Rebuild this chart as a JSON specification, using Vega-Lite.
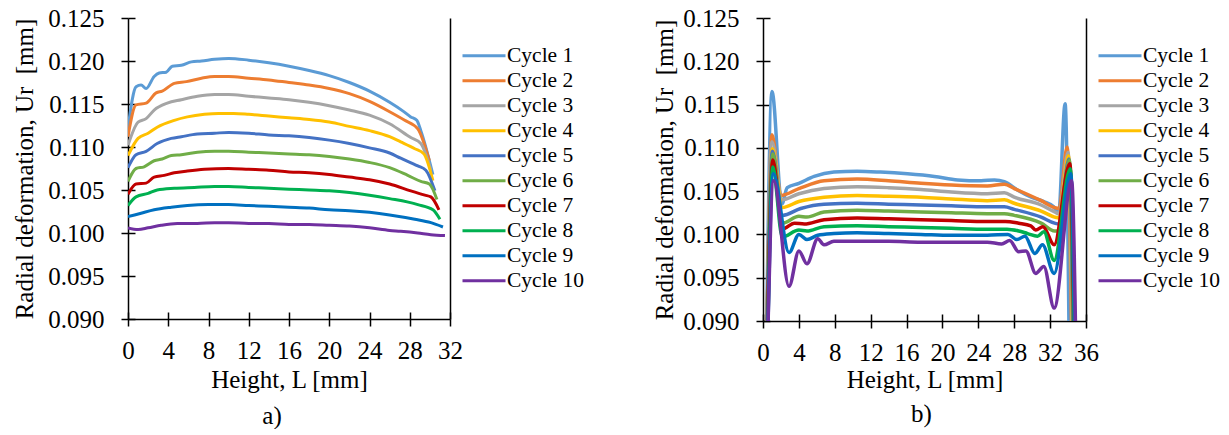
{
  "$schema": "https://vega.github.io/schema/vega-lite/v6.json",
  "padding": {"left": 12, "top": 6, "right": 0, "bottom": 0},
  "config": {
    "font": "Liberation Serif",
    "view": {"stroke": null},
    "axis": {
      "grid": false,
      "labelFont": "Liberation Serif", "labelFontSize": 25, "labelColor": "black",
      "labelFlush": false, "labelOverlap": false,
      "titleFont": "Liberation Serif", "titleFontSize": 25, "titleFontWeight": "normal", "titleColor": "black",
      "domainColor": "black", "domainWidth": 1.5,
      "tickColor": "black", "tickWidth": 1.5, "tickSize": 7
    },
    "legend": {
      "labelFont": "Liberation Serif", "labelFontSize": 21.5, "labelColor": "black",
      "symbolType": "stroke", "symbolSize": 1849, "symbolStrokeWidth": 3,
      "labelOffset": 0, "rowPadding": 2, "clipHeight": 21.5, "padding": 0
    },
    "title": {"font": "Liberation Serif", "fontSize": 25, "fontWeight": "normal", "color": "black"}
  },
  "datasets": {
    "panelA": [
      {"cycle":1,"L":0,"Ur":0.1122},{"cycle":1,"L":0.8,"Ur":0.1170},{"cycle":1,"L":1.3,"Ur":0.1172},{"cycle":1,"L":1.8,"Ur":0.1168},{"cycle":1,"L":2.6,"Ur":0.1182},{"cycle":1,"L":3.1,"Ur":0.1186},{"cycle":1,"L":3.8,"Ur":0.1187},{"cycle":1,"L":4.4,"Ur":0.1194},{"cycle":1,"L":5.3,"Ur":0.1195},{"cycle":1,"L":6.3,"Ur":0.1199},{"cycle":1,"L":7.3,"Ur":0.1200},{"cycle":1,"L":8.6,"Ur":0.1202},{"cycle":1,"L":10,"Ur":0.1203},{"cycle":1,"L":12,"Ur":0.1201},{"cycle":1,"L":14,"Ur":0.1198},{"cycle":1,"L":16,"Ur":0.1194},{"cycle":1,"L":18,"Ur":0.1189},{"cycle":1,"L":20,"Ur":0.1183},{"cycle":1,"L":22,"Ur":0.1175},{"cycle":1,"L":24,"Ur":0.1165},{"cycle":1,"L":26,"Ur":0.1152},{"cycle":1,"L":27.3,"Ur":0.1142},{"cycle":1,"L":28.1,"Ur":0.1135},{"cycle":1,"L":28.7,"Ur":0.1131},{"cycle":1,"L":29.1,"Ur":0.1119},{"cycle":1,"L":30.3,"Ur":0.1068},
      {"cycle":2,"L":0,"Ur":0.1112},{"cycle":2,"L":0.8,"Ur":0.1149},{"cycle":2,"L":1.8,"Ur":0.1151},{"cycle":2,"L":2.8,"Ur":0.1163},{"cycle":2,"L":3.4,"Ur":0.1165},{"cycle":2,"L":4.6,"Ur":0.1174},{"cycle":2,"L":5.8,"Ur":0.1176},{"cycle":2,"L":7.3,"Ur":0.1180},{"cycle":2,"L":8.6,"Ur":0.1182},{"cycle":2,"L":10,"Ur":0.1182},{"cycle":2,"L":12,"Ur":0.1180},{"cycle":2,"L":14,"Ur":0.1178},{"cycle":2,"L":16,"Ur":0.1175},{"cycle":2,"L":18,"Ur":0.1172},{"cycle":2,"L":20,"Ur":0.1168},{"cycle":2,"L":22,"Ur":0.1162},{"cycle":2,"L":24,"Ur":0.1153},{"cycle":2,"L":26,"Ur":0.1141},{"cycle":2,"L":27.5,"Ur":0.1131},{"cycle":2,"L":28.8,"Ur":0.1121},{"cycle":2,"L":29.95,"Ur":0.1084},
      {"cycle":3,"L":0,"Ur":0.1102},{"cycle":3,"L":1.0,"Ur":0.1129},{"cycle":3,"L":1.8,"Ur":0.1133},{"cycle":3,"L":2.6,"Ur":0.1143},{"cycle":3,"L":3.9,"Ur":0.1151},{"cycle":3,"L":5.3,"Ur":0.1155},{"cycle":3,"L":6.9,"Ur":0.1159},{"cycle":3,"L":8.6,"Ur":0.1161},{"cycle":3,"L":10,"Ur":0.1161},{"cycle":3,"L":12,"Ur":0.1159},{"cycle":3,"L":14,"Ur":0.1157},{"cycle":3,"L":16,"Ur":0.1155},{"cycle":3,"L":18,"Ur":0.1152},{"cycle":3,"L":20,"Ur":0.1148},{"cycle":3,"L":22,"Ur":0.1143},{"cycle":3,"L":24,"Ur":0.1137},{"cycle":3,"L":26,"Ur":0.1127},{"cycle":3,"L":28.1,"Ur":0.1111},{"cycle":3,"L":29.1,"Ur":0.1104},{"cycle":3,"L":30.1,"Ur":0.1073},
      {"cycle":4,"L":0,"Ur":0.1090},{"cycle":4,"L":1.0,"Ur":0.1110},{"cycle":4,"L":2.0,"Ur":0.1116},{"cycle":4,"L":2.9,"Ur":0.1123},{"cycle":4,"L":4.6,"Ur":0.1131},{"cycle":4,"L":5.9,"Ur":0.1135},{"cycle":4,"L":7.6,"Ur":0.1138},{"cycle":4,"L":9,"Ur":0.1139},{"cycle":4,"L":10.5,"Ur":0.1139},{"cycle":4,"L":12,"Ur":0.1138},{"cycle":4,"L":14,"Ur":0.1136},{"cycle":4,"L":16,"Ur":0.1134},{"cycle":4,"L":18,"Ur":0.1132},{"cycle":4,"L":20,"Ur":0.1129},{"cycle":4,"L":22,"Ur":0.1124},{"cycle":4,"L":24,"Ur":0.1119},{"cycle":4,"L":26,"Ur":0.1112},{"cycle":4,"L":27.1,"Ur":0.1106},{"cycle":4,"L":28.5,"Ur":0.1098},{"cycle":4,"L":29.4,"Ur":0.1092},{"cycle":4,"L":30.3,"Ur":0.1061},
      {"cycle":5,"L":0,"Ur":0.1076},{"cycle":5,"L":0.8,"Ur":0.1091},{"cycle":5,"L":1.8,"Ur":0.1095},{"cycle":5,"L":2.9,"Ur":0.1104},{"cycle":5,"L":4.3,"Ur":0.1110},{"cycle":5,"L":5.3,"Ur":0.1112},{"cycle":5,"L":6.9,"Ur":0.1115},{"cycle":5,"L":8.6,"Ur":0.1116},{"cycle":5,"L":10,"Ur":0.1117},{"cycle":5,"L":12,"Ur":0.1116},{"cycle":5,"L":14,"Ur":0.1114},{"cycle":5,"L":16,"Ur":0.1113},{"cycle":5,"L":18,"Ur":0.1111},{"cycle":5,"L":20,"Ur":0.1108},{"cycle":5,"L":22,"Ur":0.1104},{"cycle":5,"L":24,"Ur":0.1099},{"cycle":5,"L":26,"Ur":0.1093},{"cycle":5,"L":27.1,"Ur":0.1087},{"cycle":5,"L":28.8,"Ur":0.1078},{"cycle":5,"L":29.6,"Ur":0.1073},{"cycle":5,"L":30.5,"Ur":0.1049},
      {"cycle":6,"L":0,"Ur":0.1060},{"cycle":6,"L":0.8,"Ur":0.1075},{"cycle":6,"L":1.6,"Ur":0.1077},{"cycle":6,"L":2.6,"Ur":0.1084},{"cycle":6,"L":3.4,"Ur":0.1086},{"cycle":6,"L":4.3,"Ur":0.1090},{"cycle":6,"L":5.3,"Ur":0.1091},{"cycle":6,"L":6.9,"Ur":0.1094},{"cycle":6,"L":8.6,"Ur":0.1095},{"cycle":6,"L":10,"Ur":0.1095},{"cycle":6,"L":12,"Ur":0.1094},{"cycle":6,"L":14,"Ur":0.1093},{"cycle":6,"L":16,"Ur":0.1092},{"cycle":6,"L":18,"Ur":0.1091},{"cycle":6,"L":20,"Ur":0.1089},{"cycle":6,"L":22,"Ur":0.1086},{"cycle":6,"L":24,"Ur":0.1082},{"cycle":6,"L":26,"Ur":0.1076},{"cycle":6,"L":27.8,"Ur":0.1067},{"cycle":6,"L":29.1,"Ur":0.1060},{"cycle":6,"L":29.95,"Ur":0.1057},{"cycle":6,"L":30.7,"Ur":0.1039},
      {"cycle":7,"L":0,"Ur":0.1045},{"cycle":7,"L":0.8,"Ur":0.1057},{"cycle":7,"L":1.8,"Ur":0.1058},{"cycle":7,"L":2.6,"Ur":0.1065},{"cycle":7,"L":3.6,"Ur":0.1067},{"cycle":7,"L":4.6,"Ur":0.1070},{"cycle":7,"L":5.9,"Ur":0.1072},{"cycle":7,"L":7.6,"Ur":0.1074},{"cycle":7,"L":10,"Ur":0.1075},{"cycle":7,"L":12,"Ur":0.1074},{"cycle":7,"L":14,"Ur":0.1073},{"cycle":7,"L":16,"Ur":0.1071},{"cycle":7,"L":18,"Ur":0.1070},{"cycle":7,"L":20,"Ur":0.1068},{"cycle":7,"L":22,"Ur":0.1065},{"cycle":7,"L":24,"Ur":0.1062},{"cycle":7,"L":26,"Ur":0.1057},{"cycle":7,"L":28.1,"Ur":0.1049},{"cycle":7,"L":29.5,"Ur":0.1044},{"cycle":7,"L":30.1,"Ur":0.1042},{"cycle":7,"L":30.9,"Ur":0.1027},
      {"cycle":8,"L":0,"Ur":0.1032},{"cycle":8,"L":0.8,"Ur":0.1042},{"cycle":8,"L":2.0,"Ur":0.1046},{"cycle":8,"L":2.9,"Ur":0.1050},{"cycle":8,"L":4.6,"Ur":0.1052},{"cycle":8,"L":6.6,"Ur":0.1053},{"cycle":8,"L":8.6,"Ur":0.1054},{"cycle":8,"L":10,"Ur":0.1054},{"cycle":8,"L":12,"Ur":0.1053},{"cycle":8,"L":14,"Ur":0.1052},{"cycle":8,"L":16,"Ur":0.1051},{"cycle":8,"L":18,"Ur":0.1050},{"cycle":8,"L":20,"Ur":0.1049},{"cycle":8,"L":22,"Ur":0.1047},{"cycle":8,"L":24,"Ur":0.1044},{"cycle":8,"L":26,"Ur":0.1040},{"cycle":8,"L":28.8,"Ur":0.1033},{"cycle":8,"L":30.3,"Ur":0.1027},{"cycle":8,"L":31.0,"Ur":0.1016},
      {"cycle":9,"L":0,"Ur":0.1019},{"cycle":9,"L":1.3,"Ur":0.1023},{"cycle":9,"L":2.6,"Ur":0.1027},{"cycle":9,"L":4.3,"Ur":0.1030},{"cycle":9,"L":5.9,"Ur":0.1032},{"cycle":9,"L":8,"Ur":0.1033},{"cycle":9,"L":10,"Ur":0.1033},{"cycle":9,"L":12,"Ur":0.1032},{"cycle":9,"L":14,"Ur":0.1031},{"cycle":9,"L":16,"Ur":0.1030},{"cycle":9,"L":18,"Ur":0.1029},{"cycle":9,"L":20,"Ur":0.1027},{"cycle":9,"L":22,"Ur":0.1026},{"cycle":9,"L":24,"Ur":0.1024},{"cycle":9,"L":26,"Ur":0.1021},{"cycle":9,"L":28.5,"Ur":0.1016},{"cycle":9,"L":30.1,"Ur":0.1012},{"cycle":9,"L":31.3,"Ur":0.1007},
      {"cycle":10,"L":0,"Ur":0.1006},{"cycle":10,"L":1.0,"Ur":0.1004},{"cycle":10,"L":2.0,"Ur":0.1006},{"cycle":10,"L":3.3,"Ur":0.1009},{"cycle":10,"L":4.9,"Ur":0.1011},{"cycle":10,"L":6.9,"Ur":0.1011},{"cycle":10,"L":8.6,"Ur":0.1012},{"cycle":10,"L":10,"Ur":0.1012},{"cycle":10,"L":12,"Ur":0.1011},{"cycle":10,"L":14,"Ur":0.1011},{"cycle":10,"L":16,"Ur":0.1010},{"cycle":10,"L":18,"Ur":0.1010},{"cycle":10,"L":20,"Ur":0.1009},{"cycle":10,"L":22,"Ur":0.1008},{"cycle":10,"L":24,"Ur":0.1006},{"cycle":10,"L":26,"Ur":0.1003},{"cycle":10,"L":27.1,"Ur":0.1002},{"cycle":10,"L":28.8,"Ur":0.1000},{"cycle":10,"L":30.1,"Ur":0.0998},{"cycle":10,"L":31.5,"Ur":0.0997}
    ],
    "panelB": [
      {"cycle":1,"L":0.35,"Ur":0.085},{"cycle":1,"L":1.0,"Ur":0.1165},{"cycle":1,"L":2.1,"Ur":0.1035},{"cycle":1,"L":2.7,"Ur":0.1054},{"cycle":1,"L":4.0,"Ur":0.1059},{"cycle":1,"L":5.7,"Ur":0.1067},{"cycle":1,"L":7.9,"Ur":0.1072},{"cycle":1,"L":10.5,"Ur":0.1073},{"cycle":1,"L":13.1,"Ur":0.1072},{"cycle":1,"L":16.1,"Ur":0.1070},{"cycle":1,"L":19.1,"Ur":0.1067},{"cycle":1,"L":21.7,"Ur":0.1063},{"cycle":1,"L":24.3,"Ur":0.1062},{"cycle":1,"L":25.8,"Ur":0.1063},{"cycle":1,"L":26.9,"Ur":0.1061},{"cycle":1,"L":28.4,"Ur":0.1051},{"cycle":1,"L":29.9,"Ur":0.1043},{"cycle":1,"L":31.3,"Ur":0.1038},{"cycle":1,"L":32.4,"Ur":0.1032},{"cycle":1,"L":32.95,"Ur":0.1024},{"cycle":1,"L":33.67,"Ur":0.1151},{"cycle":1,"L":34.15,"Ur":0.085},
      {"cycle":2,"L":0.4,"Ur":0.086},{"cycle":2,"L":1.0,"Ur":0.1115},{"cycle":2,"L":2.0,"Ur":0.1045},{"cycle":2,"L":4.0,"Ur":0.1053},{"cycle":2,"L":6.8,"Ur":0.1062},{"cycle":2,"L":10.5,"Ur":0.1064},{"cycle":2,"L":14,"Ur":0.1062},{"cycle":2,"L":17.6,"Ur":0.1059},{"cycle":2,"L":21,"Ur":0.1057},{"cycle":2,"L":25,"Ur":0.1056},{"cycle":2,"L":26.9,"Ur":0.1058},{"cycle":2,"L":28,"Ur":0.1053},{"cycle":2,"L":31,"Ur":0.1039},{"cycle":2,"L":32.5,"Ur":0.1031},{"cycle":2,"L":33.0,"Ur":0.1030},{"cycle":2,"L":33.9,"Ur":0.1101},{"cycle":2,"L":34.45,"Ur":0.085},
      {"cycle":3,"L":0.4,"Ur":0.086},{"cycle":3,"L":1.0,"Ur":0.1107},{"cycle":3,"L":2.1,"Ur":0.1040},{"cycle":3,"L":4.0,"Ur":0.1047},{"cycle":3,"L":6.8,"Ur":0.1053},{"cycle":3,"L":10.5,"Ur":0.1055},{"cycle":3,"L":14,"Ur":0.1054},{"cycle":3,"L":17.6,"Ur":0.1052},{"cycle":3,"L":21,"Ur":0.1049},{"cycle":3,"L":25,"Ur":0.1047},{"cycle":3,"L":26.9,"Ur":0.1048},{"cycle":3,"L":28,"Ur":0.1043},{"cycle":3,"L":31,"Ur":0.1034},{"cycle":3,"L":32.5,"Ur":0.1026},{"cycle":3,"L":33.0,"Ur":0.1024},{"cycle":3,"L":34.0,"Ur":0.1095},{"cycle":3,"L":34.5,"Ur":0.085},
      {"cycle":4,"L":0.4,"Ur":0.087},{"cycle":4,"L":1.05,"Ur":0.1099},{"cycle":4,"L":2.15,"Ur":0.1031},{"cycle":4,"L":4.0,"Ur":0.1038},{"cycle":4,"L":6.8,"Ur":0.1043},{"cycle":4,"L":10.5,"Ur":0.1045},{"cycle":4,"L":14,"Ur":0.1044},{"cycle":4,"L":17.6,"Ur":0.1043},{"cycle":4,"L":21,"Ur":0.1041},{"cycle":4,"L":25,"Ur":0.1039},{"cycle":4,"L":26.9,"Ur":0.1040},{"cycle":4,"L":28,"Ur":0.1036},{"cycle":4,"L":31,"Ur":0.1027},{"cycle":4,"L":32.5,"Ur":0.1020},{"cycle":4,"L":33.0,"Ur":0.1019},{"cycle":4,"L":34.05,"Ur":0.1091},{"cycle":4,"L":34.55,"Ur":0.085},
      {"cycle":5,"L":0.4,"Ur":0.087},{"cycle":5,"L":1.05,"Ur":0.1096},{"cycle":5,"L":2.15,"Ur":0.1022},{"cycle":5,"L":4.2,"Ur":0.1030},{"cycle":5,"L":6.8,"Ur":0.1035},{"cycle":5,"L":10.5,"Ur":0.1036},{"cycle":5,"L":14,"Ur":0.1035},{"cycle":5,"L":17.6,"Ur":0.1034},{"cycle":5,"L":21,"Ur":0.1033},{"cycle":5,"L":25,"Ur":0.1032},{"cycle":5,"L":26.9,"Ur":0.1032},{"cycle":5,"L":28,"Ur":0.1029},{"cycle":5,"L":31,"Ur":0.1020},{"cycle":5,"L":32.5,"Ur":0.1013},{"cycle":5,"L":33.0,"Ur":0.1012},{"cycle":5,"L":34.1,"Ur":0.1087},{"cycle":5,"L":34.6,"Ur":0.085},
      {"cycle":6,"L":0.45,"Ur":0.087},{"cycle":6,"L":1.1,"Ur":0.1093},{"cycle":6,"L":2.15,"Ur":0.1013},{"cycle":6,"L":4.0,"Ur":0.1021},{"cycle":6,"L":4.9,"Ur":0.1020},{"cycle":6,"L":6.8,"Ur":0.1026},{"cycle":6,"L":10.5,"Ur":0.1028},{"cycle":6,"L":14,"Ur":0.1027},{"cycle":6,"L":17.6,"Ur":0.1026},{"cycle":6,"L":21,"Ur":0.1025},{"cycle":6,"L":25,"Ur":0.1024},{"cycle":6,"L":26.9,"Ur":0.1024},{"cycle":6,"L":28,"Ur":0.1022},{"cycle":6,"L":31,"Ur":0.1013},{"cycle":6,"L":32.5,"Ur":0.1004},{"cycle":6,"L":33.0,"Ur":0.1004},{"cycle":6,"L":34.15,"Ur":0.1086},{"cycle":6,"L":34.65,"Ur":0.085},
      {"cycle":7,"L":0.45,"Ur":0.087},{"cycle":7,"L":1.1,"Ur":0.1086},{"cycle":7,"L":2.15,"Ur":0.1006},{"cycle":7,"L":3.5,"Ur":0.1013},{"cycle":7,"L":4.6,"Ur":0.1012},{"cycle":7,"L":6.8,"Ur":0.1017},{"cycle":7,"L":10.5,"Ur":0.1019},{"cycle":7,"L":14,"Ur":0.1018},{"cycle":7,"L":17.6,"Ur":0.1017},{"cycle":7,"L":21,"Ur":0.1016},{"cycle":7,"L":25,"Ur":0.1015},{"cycle":7,"L":27,"Ur":0.1015},{"cycle":7,"L":28.5,"Ur":0.1013},{"cycle":7,"L":29.85,"Ur":0.1010},{"cycle":7,"L":30.4,"Ur":0.1005},{"cycle":7,"L":31.2,"Ur":0.1009},{"cycle":7,"L":32.45,"Ur":0.0988},{"cycle":7,"L":34.2,"Ur":0.1082},{"cycle":7,"L":34.7,"Ur":0.085},
      {"cycle":8,"L":0.5,"Ur":0.087},{"cycle":8,"L":1.1,"Ur":0.1078},{"cycle":8,"L":2.15,"Ur":0.0997},{"cycle":8,"L":4.0,"Ur":0.1005},{"cycle":8,"L":4.9,"Ur":0.1004},{"cycle":8,"L":6.8,"Ur":0.1009},{"cycle":8,"L":10.5,"Ur":0.1010},{"cycle":8,"L":14,"Ur":0.1009},{"cycle":8,"L":17.6,"Ur":0.1008},{"cycle":8,"L":21,"Ur":0.1007},{"cycle":8,"L":25,"Ur":0.1006},{"cycle":8,"L":27.2,"Ur":0.1006},{"cycle":8,"L":28.5,"Ur":0.1004},{"cycle":8,"L":29.5,"Ur":0.1001},{"cycle":8,"L":30.6,"Ur":0.0998},{"cycle":8,"L":31.3,"Ur":0.1003},{"cycle":8,"L":32.45,"Ur":0.0970},{"cycle":8,"L":34.25,"Ur":0.1076},{"cycle":8,"L":34.75,"Ur":0.085},
      {"cycle":9,"L":0.5,"Ur":0.087},{"cycle":9,"L":1.15,"Ur":0.1070},{"cycle":9,"L":2.9,"Ur":0.0979},{"cycle":9,"L":4.0,"Ur":0.1000},{"cycle":9,"L":4.9,"Ur":0.0994},{"cycle":9,"L":6.1,"Ur":0.0999},{"cycle":9,"L":7.9,"Ur":0.1001},{"cycle":9,"L":10.5,"Ur":0.1002},{"cycle":9,"L":14,"Ur":0.1001},{"cycle":9,"L":17.6,"Ur":0.1000},{"cycle":9,"L":21,"Ur":0.0999},{"cycle":9,"L":25,"Ur":0.0999},{"cycle":9,"L":27.3,"Ur":0.1000},{"cycle":9,"L":28.3,"Ur":0.0994},{"cycle":9,"L":29.2,"Ur":0.0998},{"cycle":9,"L":30.3,"Ur":0.0978},{"cycle":9,"L":31.15,"Ur":0.0988},{"cycle":9,"L":32.45,"Ur":0.0955},{"cycle":9,"L":34.3,"Ur":0.1070},{"cycle":9,"L":34.8,"Ur":0.085},
      {"cycle":10,"L":0.5,"Ur":0.087},{"cycle":10,"L":1.2,"Ur":0.1062},{"cycle":10,"L":2.9,"Ur":0.0940},{"cycle":10,"L":4.0,"Ur":0.0981},{"cycle":10,"L":4.9,"Ur":0.0966},{"cycle":10,"L":6.1,"Ur":0.0995},{"cycle":10,"L":6.8,"Ur":0.0988},{"cycle":10,"L":7.9,"Ur":0.0992},{"cycle":10,"L":10.5,"Ur":0.0992},{"cycle":10,"L":14,"Ur":0.0992},{"cycle":10,"L":17.6,"Ur":0.0991},{"cycle":10,"L":21,"Ur":0.0991},{"cycle":10,"L":25,"Ur":0.0991},{"cycle":10,"L":26.6,"Ur":0.0989},{"cycle":10,"L":27.5,"Ur":0.0993},{"cycle":10,"L":28.5,"Ur":0.0980},{"cycle":10,"L":29.3,"Ur":0.0981},{"cycle":10,"L":30.4,"Ur":0.0955},{"cycle":10,"L":31.3,"Ur":0.0963},{"cycle":10,"L":32.45,"Ur":0.0915},{"cycle":10,"L":34.4,"Ur":0.1062},{"cycle":10,"L":34.9,"Ur":0.085}
    ]
  },
  "spacing": 67,
  "resolve": {"scale": {"color": "independent"}, "legend": {"color": "independent"}},
  "hconcat": [
    {
      "width": 322, "height": 301,
      "data": {"name": "panelA"},
      "title": {"text": "a)", "orient": "bottom", "dx": -17, "offset": 12},
      "layer": [
        {
          "mark": {"type": "line", "interpolate": "monotone", "strokeWidth": 3, "clip": true},
          "encoding": {
            "x": {"field": "L", "type": "quantitative", "scale": {"domain": [0, 32], "nice": false},
                  "axis": {"orient": "bottom", "values": [0, 4, 8, 12, 16, 20, 24, 28, 32], "title": "Height, L [mm]", "labelPadding": 12, "titlePadding": 4}},
            "y": {"field": "Ur", "type": "quantitative", "scale": {"domain": [0.09, 0.125], "nice": false, "zero": false},
                  "axis": {"orient": "left", "values": [0.09, 0.095, 0.1, 0.105, 0.11, 0.115, 0.12, 0.125], "format": ".3f", "title": "Radial deformation, Ur\u00a0 [mm]", "labelPadding": 17, "titlePadding": 10}},
            "color": {"field": "cycle", "type": "nominal",
                      "scale": {"domain": [1, 2, 3, 4, 5, 6, 7, 8, 9, 10], "range": ["#5B9BD5", "#ED7D31", "#A5A5A5", "#FFC000", "#4472C4", "#70AD47", "#C00000", "#00B050", "#0070C0", "#7030A0"]},
                      "legend": {"orient": "none", "legendX": 333, "legendY": 27, "title": null, "labelExpr": "'Cycle ' + datum.label"}}
          }
        },
        {
          "mark": {"type": "point", "opacity": 0, "clip": true},
          "encoding": {
            "x": {"field": "L", "type": "quantitative", "axis": {"orient": "bottom", "values": [0, 4, 8, 12, 16, 20, 24, 28, 32], "tickSize": -7, "labels": false, "domain": false, "title": null}},
            "y": {"field": "Ur", "type": "quantitative", "axis": {"orient": "left", "values": [0.09, 0.095, 0.1, 0.105, 0.11, 0.115, 0.12, 0.125], "tickSize": -7, "labels": false, "domain": false, "title": null}}
          }
        },
        {
          "mark": {"type": "point", "opacity": 0, "clip": true},
          "encoding": {
            "y": {"field": "Ur", "type": "quantitative", "axis": {"orient": "right", "ticks": false, "labels": false, "title": null}}
          }
        }
      ],
      "resolve": {"axis": {"x": "independent", "y": "independent"}}
    },
    {
      "width": 323, "height": 303,
      "data": {"name": "panelB"},
      "title": {"text": "b)", "orient": "bottom", "dx": -3, "offset": 10},
      "layer": [
        {
          "mark": {"type": "line", "interpolate": "monotone", "strokeWidth": 3.5, "clip": true},
          "encoding": {
            "x": {"field": "L", "type": "quantitative", "scale": {"domain": [0, 36], "nice": false},
                  "axis": {"orient": "bottom", "values": [0, 4, 8, 12, 16, 20, 24, 28, 32, 36], "title": "Height, L [mm]", "labelPadding": 12, "titlePadding": 2}},
            "y": {"field": "Ur", "type": "quantitative", "scale": {"domain": [0.09, 0.125], "nice": false, "zero": false},
                  "axis": {"orient": "left", "values": [0.09, 0.095, 0.1, 0.105, 0.11, 0.115, 0.12, 0.125], "format": ".3f", "title": "Radial deformation, Ur\u00a0 [mm]", "labelPadding": 17, "titlePadding": 5}},
            "color": {"field": "cycle", "type": "nominal",
                      "scale": {"domain": [1, 2, 3, 4, 5, 6, 7, 8, 9, 10], "range": ["#5B9BD5", "#ED7D31", "#A5A5A5", "#FFC000", "#4472C4", "#70AD47", "#C00000", "#00B050", "#0070C0", "#7030A0"]},
                      "legend": {"orient": "none", "legendX": 334, "legendY": 27, "title": null, "labelExpr": "'Cycle ' + datum.label"}}
          }
        },
        {
          "mark": {"type": "point", "opacity": 0, "clip": true},
          "encoding": {
            "x": {"field": "L", "type": "quantitative", "axis": {"orient": "bottom", "values": [0, 4, 8, 12, 16, 20, 24, 28, 32, 36], "tickSize": -7, "labels": false, "domain": false, "title": null}},
            "y": {"field": "Ur", "type": "quantitative", "axis": {"orient": "left", "values": [0.09, 0.095, 0.1, 0.105, 0.11, 0.115, 0.12, 0.125], "tickSize": -7, "labels": false, "domain": false, "title": null}}
          }
        },
        {
          "mark": {"type": "point", "opacity": 0, "clip": true},
          "encoding": {
            "y": {"field": "Ur", "type": "quantitative", "axis": {"orient": "right", "ticks": false, "labels": false, "title": null}}
          }
        }
      ],
      "resolve": {"axis": {"x": "independent", "y": "independent"}}
    }
  ]
}
